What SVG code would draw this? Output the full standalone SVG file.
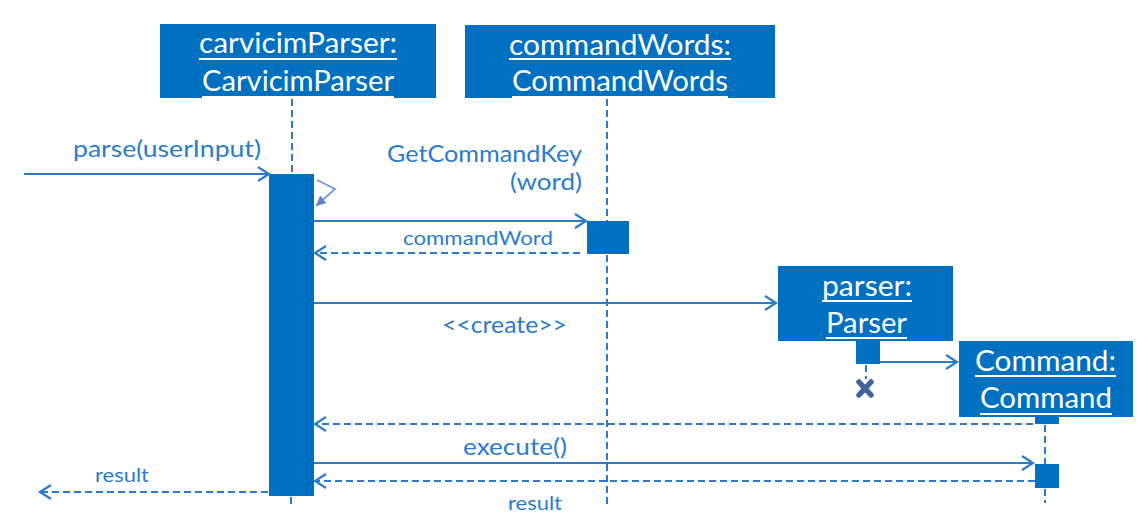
<svg xmlns="http://www.w3.org/2000/svg" width="1147" height="519" viewBox="0 0 1147 519">
<defs>
<style>
.box{fill:#0070C0;}
.bt{font-family:Lato,"Liberation Sans",sans-serif;font-size:29px;fill:#ffffff;}
.ul{stroke:#ffffff;stroke-width:2;}
.act{fill:#0070C0;}
.life{stroke:#2A7CCB;stroke-width:2;stroke-dasharray:7 4;fill:none;}
.msg{stroke:#2A7CCB;stroke-width:2.2;fill:none;}
.ret{stroke:#2A7CCB;stroke-width:2.2;stroke-dasharray:7 4;fill:none;}
.lbl{font-family:Lato,"Liberation Sans",sans-serif;font-size:23px;fill:#2A7CCB;}
.sl{font-family:Lato,"Liberation Sans",sans-serif;font-size:20px;fill:#2A7CCB;}
</style>
<marker id="open" markerUnits="userSpaceOnUse" markerWidth="16" markerHeight="16" refX="13" refY="8" orient="auto">
<path d="M2,1 L13,8 L2,15" fill="none" stroke="#2A7CCB" stroke-width="2.2"/>
</marker>
<marker id="fill" markerUnits="userSpaceOnUse" markerWidth="12" markerHeight="12" refX="10" refY="6" orient="auto">
<path d="M0,1 L10,6 L0,11 Z" fill="#5a86c5"/>
</marker>
</defs>
<rect width="1147" height="519" fill="#ffffff"/>

<g id="carvicimParser">
<rect class="box" x="160" y="24" width="276" height="74"/>
<text class="bt" x="199" y="53" textLength="198" lengthAdjust="spacingAndGlyphs">carvicimParser:</text>
<line class="ul" x1="199" y1="59" x2="397" y2="59"/>
<text class="bt" x="202" y="91" textLength="192" lengthAdjust="spacingAndGlyphs">CarvicimParser</text>
<line class="ul" x1="202" y1="97" x2="394" y2="97"/>
<line class="life" x1="292" y1="99" x2="292" y2="174"/>
<rect class="act" x="269" y="174" width="45" height="322"/>
<line class="life" x1="291" y1="497" x2="291" y2="507"/>
</g>

<g id="commandWords">
<rect class="box" x="465" y="25" width="310" height="73"/>
<text class="bt" x="509" y="55" textLength="222" lengthAdjust="spacingAndGlyphs">commandWords:</text>
<line class="ul" x1="509" y1="59" x2="731" y2="59"/>
<text class="bt" x="512" y="91" textLength="216" lengthAdjust="spacingAndGlyphs">CommandWords</text>
<line class="ul" x1="512" y1="97" x2="728" y2="97"/>
<line class="life" x1="607" y1="99" x2="607" y2="221"/>
<rect class="act" x="587" y="221" width="42" height="33"/>
<line class="life" x1="607" y1="255" x2="607" y2="508"/>
</g>

<g id="parser">
<rect class="box" x="778" y="266" width="175" height="75"/>
<text class="bt" x="822" y="296" textLength="90" lengthAdjust="spacingAndGlyphs">parser:</text>
<line class="ul" x1="822" y1="301" x2="912" y2="301"/>
<text class="bt" x="826" y="333" textLength="81" lengthAdjust="spacingAndGlyphs">Parser</text>
<line class="ul" x1="826" y1="338" x2="907" y2="338"/>
<rect class="act" x="856" y="339" width="24" height="25"/>
<line class="life" x1="866" y1="365" x2="866" y2="379"/>
<g stroke="#41659a" stroke-width="5.5" stroke-linecap="round">
<line x1="859" y1="382" x2="871" y2="395"/>
<line x1="871" y1="382" x2="859" y2="395"/>
</g>
</g>

<g id="command">
<rect class="box" x="959" y="341" width="174" height="76"/>
<text class="bt" x="975" y="371" textLength="141" lengthAdjust="spacingAndGlyphs">Command:</text>
<line class="ul" x1="975" y1="376" x2="1116" y2="376"/>
<text class="bt" x="980" y="408" textLength="132" lengthAdjust="spacingAndGlyphs">Command</text>
<line class="ul" x1="980" y1="414" x2="1112" y2="414"/>
<rect class="act" x="1035" y="417" width="24" height="7"/>
<line class="life" x1="1045" y1="425" x2="1045" y2="464"/>
<rect class="act" x="1035" y="464" width="24" height="24"/>
<line class="life" x1="1045" y1="489" x2="1045" y2="503"/>
</g>

<g id="connectors">
<line class="msg" x1="24" y1="174" x2="269" y2="174" marker-end="url(#open)"/>
<text class="lbl" x="73" y="157" textLength="188" lengthAdjust="spacingAndGlyphs">parse(userInput)</text>

<path d="M317,180 L335,189 L316,206" fill="none" stroke="#6f9bd3" stroke-width="1.8" marker-end="url(#fill)"/>

<line class="msg" x1="314" y1="221" x2="586" y2="221" marker-end="url(#open)"/>
<text class="lbl" x="387" y="162" textLength="195" lengthAdjust="spacingAndGlyphs">GetCommandKey</text>
<text class="lbl" x="510" y="190" textLength="72" lengthAdjust="spacingAndGlyphs">(word)</text>

<line class="ret" x1="580" y1="253" x2="315" y2="253" marker-end="url(#open)"/>
<text class="sl" x="403" y="245" textLength="150" lengthAdjust="spacingAndGlyphs">commandWord</text>

<line class="msg" x1="314" y1="303" x2="776" y2="303" marker-end="url(#open)"/>
<text class="lbl" x="442" y="333" textLength="125" lengthAdjust="spacingAndGlyphs">&lt;&lt;create&gt;&gt;</text>

<line class="msg" x1="880" y1="362" x2="957" y2="362" marker-end="url(#open)"/>

<line class="ret" x1="1033" y1="424" x2="315" y2="424" marker-end="url(#open)"/>

<line class="msg" x1="314" y1="463" x2="1033" y2="463" marker-end="url(#open)"/>
<text class="lbl" x="463" y="455" textLength="104" lengthAdjust="spacingAndGlyphs">execute()</text>

<line class="ret" x1="1035" y1="481" x2="315" y2="481" marker-end="url(#open)"/>
<text class="sl" x="508" y="510" textLength="54" lengthAdjust="spacingAndGlyphs">result</text>

<line class="ret" x1="268" y1="492" x2="40" y2="492" marker-end="url(#open)"/>
<text class="sl" x="95" y="482" textLength="54" lengthAdjust="spacingAndGlyphs">result</text>
</g>
</svg>
